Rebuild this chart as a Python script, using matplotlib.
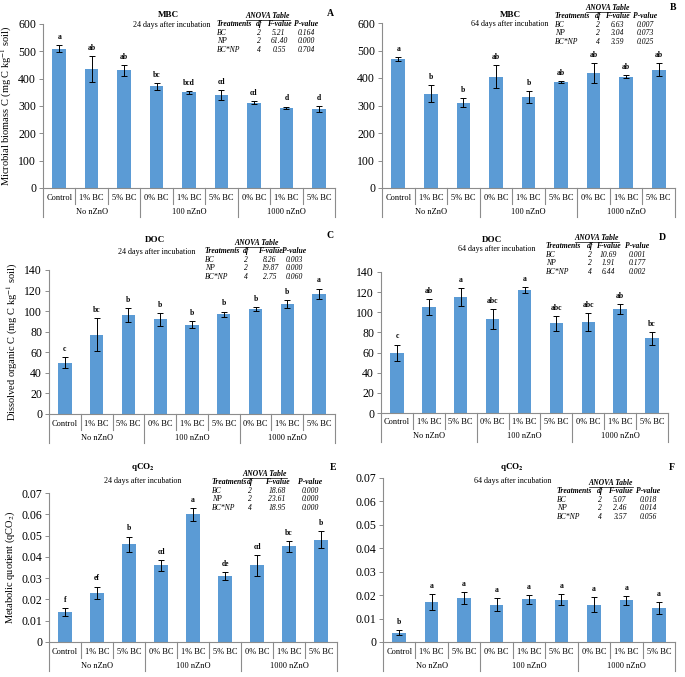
import matplotlib.pyplot as plt
from matplotlib.transforms import blended_transform_factory
from matplotlib.lines import Line2D

W, H = 685, 677
plt.rcParams['font.family'] = ['Liberation Serif', 'DejaVu Serif']
plt.rcParams['mathtext.fontset'] = 'stix'

categories = ['Control', '1% BC', '5% BC', '0% BC', '1% BC', '5% BC', '0% BC', '1% BC', '5% BC']
groups = ['No nZnO', '100 nZnO', '1000 nZnO']

# MBC, 24 and 64 days
mbc24 = [510, 435, 430, 372, 350, 340, 312, 293, 290]
mbc24_err = [12, 48, 20, 13, 6, 17, 5, 5, 11]
mbc24_let = ['a', 'ab', 'ab', 'bc', 'bcd', 'cd', 'cd', 'd', 'd']
mbc64 = [468, 343, 310, 405, 330, 385, 417, 405, 430]
mbc64_err = [8, 31, 17, 42, 22, 5, 37, 5, 23]
mbc64_let = ['a', 'b', 'b', 'ab', 'b', 'ab', 'ab', 'ab', 'ab']

# DOC
doc24 = [50, 77, 96, 92, 87, 97, 102, 107, 117]
doc24_err = [5, 16, 7, 6, 3, 2.5, 2, 3.5, 5]
doc24_let = ['c', 'bc', 'b', 'b', 'b', 'b', 'b', 'b', 'a']
doc64 = [60, 105, 115, 93, 122, 89, 90, 103, 74]
doc64_err = [8, 8, 9, 10, 3, 7.5, 9, 5, 6]
doc64_let = ['c', 'ab', 'a', 'abc', 'a', 'abc', 'abc', 'ab', 'bc']

# qCO2
qco24 = [0.014, 0.023, 0.046, 0.036, 0.060, 0.031, 0.036, 0.045, 0.048]
qco24_err = [0.002, 0.003, 0.0035, 0.0025, 0.003, 0.0017, 0.005, 0.0025, 0.004]
qco24_let = ['f', 'ef', 'b', 'cd', 'a', 'de', 'cd', 'bc', 'b']
qco64 = [0.004, 0.017, 0.0187, 0.016, 0.0182, 0.018, 0.016, 0.0178, 0.0145]
qco64_err = [0.001, 0.0035, 0.0025, 0.0028, 0.002, 0.0023, 0.003, 0.0018, 0.0024]
qco64_let = ['b', 'a', 'a', 'a', 'a', 'a', 'a', 'a', 'a']

# ANOVA tables: (treatment, df, F, P)
anova_terms = ['BC', 'NP', 'BC*NP']
anova_df = ['2', '2', '4']
anova_a = [['5.21', '0.164'], ['61.40', '0.000'], ['0.55', '0.704']]
anova_b = [['6.63', '0.007'], ['3.04', '0.073'], ['3.59', '0.025']]
anova_c = [['8.26', '0.003'], ['19.87', '0.000'], ['2.75', '0.060']]
anova_d = [['10.69', '0.001'], ['1.91', '0.177'], ['6.44', '0.002']]
anova_e = [['18.68', '0.000'], ['23.61', '0.000'], ['18.95', '0.000']]
anova_f = [['5.07', '0.018'], ['2.46', '0.014'], ['3.57', '0.056']]

BAR = '#5B9BD5'
AXC = '#8C8C8C'

fig = plt.figure(figsize=(6.85, 6.77), dpi=100)


def ftxt(x, y, s, **kw):
    fig.text(x / W, 1 - y / H, s, **kw)


def panel(box, vals, errs, lets, ymax, step, fmt, ylabel, title, sub, letter,
          anova, layout):
    l, t, r, b = box
    ax = fig.add_axes([l / W, 1 - b / H, (r - l) / W, (b - t) / H])
    hpx = b - t
    xs = range(len(vals))
    ax.bar(xs, vals, width=0.42, color=BAR, zorder=2)
    ax.errorbar(xs, vals, yerr=errs, fmt='none', ecolor='black', elinewidth=0.7,
                capsize=2, capthick=0.7, zorder=3)
    for x, v, e, s in zip(xs, vals, errs, lets):
        ax.annotate(s, (x, v + e), xytext=(0, 3), textcoords='offset points',
                    ha='center', va='bottom', fontsize=5.5, fontweight='bold')
    ax.set_xlim(-0.5, len(vals) - 0.5)
    ax.set_ylim(0, ymax)
    ticks = [i * step for i in range(int(round(ymax / step)) + 1)]
    ax.set_yticks(ticks)
    ax.set_yticklabels([fmt(v) for v in ticks])
    ax.tick_params(axis='y', labelsize=8.5, length=3, color=AXC, width=0.7, pad=2)
    ax.set_xticks([])
    for s in ['top', 'right']:
        ax.spines[s].set_visible(False)
    for s in ['left', 'bottom']:
        ax.spines[s].set_color(AXC)
        ax.spines[s].set_linewidth(0.8)
    if ylabel:
        ax.set_ylabel(ylabel, fontsize=7.5, labelpad=3)
    tr = blended_transform_factory(ax.transData, ax.transAxes)
    for i, c in enumerate(categories):
        ax.text(i, -9.5 / hpx, c, transform=tr, ha='center', va='center', fontsize=6)
    for k in range(len(vals) + 1):
        x = k - 0.5
        d = 29 if k % 3 == 0 else 16
        ax.plot([x, x], [0, -d / hpx], transform=tr, color=AXC, lw=0.8,
                clip_on=False)
    for g, name in enumerate(groups):
        ax.text(3 * g + 1, -23.5 / hpx, name, transform=tr, ha='center',
                va='center', fontsize=6)

    # annotations
    tx, ty, sx, sy, lx, ly, cx, y0, colx = layout
    ftxt(tx, ty, title, ha='center', va='center', fontsize=6.5, fontweight='bold')
    ftxt(sx, sy, sub, ha='center', va='center', fontsize=5.8)
    ftxt(lx, ly, letter, ha='center', va='center', fontsize=7, fontweight='bold')
    tab = dict(fontsize=5.5, style='italic', va='center')
    ftxt(cx, y0, 'ANOVA Table', ha='center', fontweight='bold', **tab)
    fig.add_artist(Line2D([(cx - 22) / W, (cx + 22) / W],
                          [1 - (y0 + 3.5) / H, 1 - (y0 + 3.5) / H],
                          color='black', lw=0.5))
    trx, dfx, fx, pxx = colx
    hy = y0 + 8.4
    ftxt(trx, hy, 'Treatments', ha='left', fontweight='bold', **tab)
    ftxt(dfx, hy, 'df', ha='center', fontweight='bold', **tab)
    ftxt(fx, hy, 'F-value', ha='center', fontweight='bold', **tab)
    ftxt(pxx, hy, 'P-value', ha='center', fontweight='bold', **tab)
    for k, (term, df, row) in enumerate(zip(anova_terms, anova_df, anova)):
        ry = hy + 8.4 * (k + 1)
        ftxt(trx + 1, ry, term, ha='left', **tab)
        ftxt(dfx, ry, df, ha='center', **tab)
        ftxt(fx, ry, row[0], ha='center', **tab)
        ftxt(pxx, ry, row[1], ha='center', **tab)
    return ax


ylab_c = 'Microbial biomass C (mg C kg$^{-1}$ soil)'
ylab_d = 'Dissolved organic C (mg C kg$^{-1}$ soil)'
ylab_q = 'Metabolic quotient (qCO$_2$)'
fint = lambda v: '%d' % v
fq = lambda v: '0' if v == 0 else ('%.2f' % v)

panel((43, 24, 335, 188), mbc24, mbc24_err, mbc24_let, 600, 100, fint, ylab_c,
      'MBC', '24 days after incubation', 'A', anova_a,
      (168, 15, 172, 25, 330, 14, 268, 16, (216, 259, 279, 306)))
panel((382, 23, 675, 188), mbc64, mbc64_err, mbc64_let, 600, 100, fint, None,
      'MBC', '64 days after incubation', 'B', anova_b,
      (510, 15, 510, 24, 673, 8, 608, 8, (554, 598, 617, 645)))
panel((49, 270, 335, 414), doc24, doc24_err, doc24_let, 140, 20, fint, ylab_d,
      'DOC', '24 days after incubation', 'C', anova_c,
      (155, 240, 157, 252, 330, 235, 257, 243, (204, 246, 270, 294)))
panel((381, 272, 668, 413), doc64, doc64_err, doc64_let, 140, 20, fint, None,
      'DOC', '64 days after incubation', 'D', anova_d,
      (492, 240, 497, 249, 662, 238, 597, 238, (545, 590, 608, 637)))
panel((49, 493, 337, 642), qco24, qco24_err, qco24_let, 0.07, 0.01, fq, ylab_q,
      'qCO$_\\mathbf{2}$', '24 days after incubation', 'E', anova_e,
      (143, 467, 143, 481, 333, 468, 265, 474, (211, 250, 277, 310)))
panel((383, 478, 675, 642), qco64, qco64_err, qco64_let, 0.07, 0.01, fq, None,
      'qCO$_\\mathbf{2}$', '64 days after incubation', 'F', anova_f,
      (512, 467, 513, 481, 672, 468, 611, 483, (556, 600, 620, 648)))

fig.savefig('out.png', dpi=100)
